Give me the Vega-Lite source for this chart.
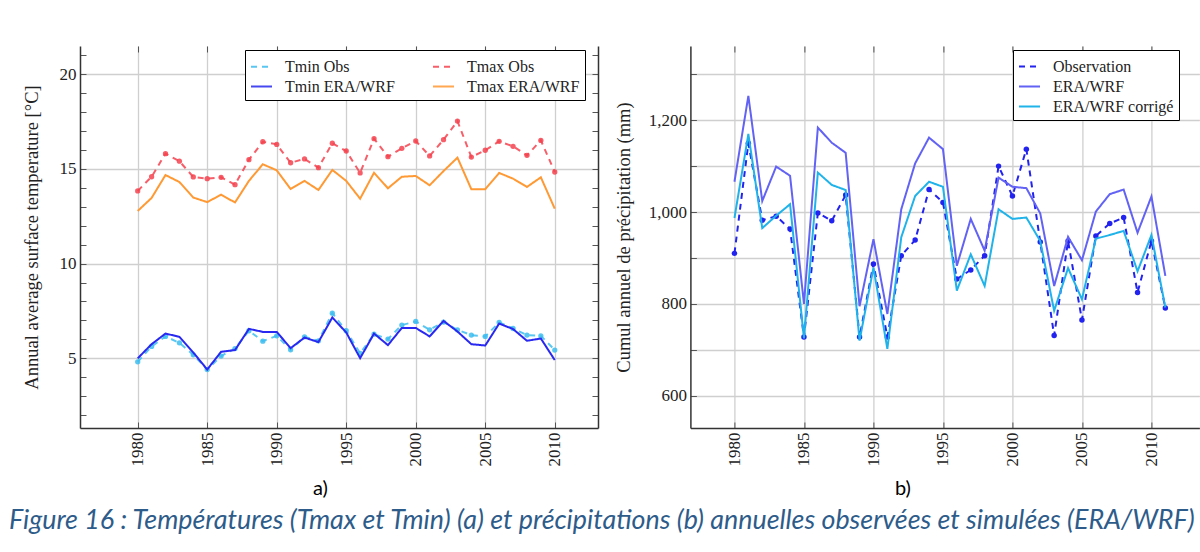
{
  "$schema": "https://vega.github.io/schema/vega-lite/v6.json",
  "background": "white",
  "padding": {"left": 9, "top": 45, "right": 0, "bottom": 5},
  "bounds": "flush",
  "spacing": 92.4,
  "datasets": {
    "temp": [
      {"year":1980,"series":"Tmin Obs","value":4.81},{"year":1981,"series":"Tmin Obs","value":5.62},{"year":1982,"series":"Tmin Obs","value":6.15},{"year":1983,"series":"Tmin Obs","value":5.81},{"year":1984,"series":"Tmin Obs","value":5.18},{"year":1985,"series":"Tmin Obs","value":4.40},{"year":1986,"series":"Tmin Obs","value":5.11},{"year":1987,"series":"Tmin Obs","value":5.51},{"year":1988,"series":"Tmin Obs","value":6.45},{"year":1989,"series":"Tmin Obs","value":5.90},{"year":1990,"series":"Tmin Obs","value":6.18},{"year":1991,"series":"Tmin Obs","value":5.44},{"year":1992,"series":"Tmin Obs","value":6.13},{"year":1993,"series":"Tmin Obs","value":5.92},{"year":1994,"series":"Tmin Obs","value":7.38},{"year":1995,"series":"Tmin Obs","value":6.45},{"year":1996,"series":"Tmin Obs","value":5.25},{"year":1997,"series":"Tmin Obs","value":6.27},{"year":1998,"series":"Tmin Obs","value":6.01},{"year":1999,"series":"Tmin Obs","value":6.75},{"year":2000,"series":"Tmin Obs","value":6.94},{"year":2001,"series":"Tmin Obs","value":6.50},{"year":2002,"series":"Tmin Obs","value":6.91},{"year":2003,"series":"Tmin Obs","value":6.50},{"year":2004,"series":"Tmin Obs","value":6.22},{"year":2005,"series":"Tmin Obs","value":6.15},{"year":2006,"series":"Tmin Obs","value":6.89},{"year":2007,"series":"Tmin Obs","value":6.57},{"year":2008,"series":"Tmin Obs","value":6.22},{"year":2009,"series":"Tmin Obs","value":6.18},{"year":2010,"series":"Tmin Obs","value":5.43},
      {"year":1980,"series":"Tmax Obs","value":13.84},{"year":1981,"series":"Tmax Obs","value":14.59},{"year":1982,"series":"Tmax Obs","value":15.81},{"year":1983,"series":"Tmax Obs","value":15.41},{"year":1984,"series":"Tmax Obs","value":14.58},{"year":1985,"series":"Tmax Obs","value":14.49},{"year":1986,"series":"Tmax Obs","value":14.56},{"year":1987,"series":"Tmax Obs","value":14.17},{"year":1988,"series":"Tmax Obs","value":15.49},{"year":1989,"series":"Tmax Obs","value":16.44},{"year":1990,"series":"Tmax Obs","value":16.30},{"year":1991,"series":"Tmax Obs","value":15.33},{"year":1992,"series":"Tmax Obs","value":15.53},{"year":1993,"series":"Tmax Obs","value":15.07},{"year":1994,"series":"Tmax Obs","value":16.36},{"year":1995,"series":"Tmax Obs","value":15.95},{"year":1996,"series":"Tmax Obs","value":14.79},{"year":1997,"series":"Tmax Obs","value":16.60},{"year":1998,"series":"Tmax Obs","value":15.65},{"year":1999,"series":"Tmax Obs","value":16.09},{"year":2000,"series":"Tmax Obs","value":16.48},{"year":2001,"series":"Tmax Obs","value":15.69},{"year":2002,"series":"Tmax Obs","value":16.55},{"year":2003,"series":"Tmax Obs","value":17.53},{"year":2004,"series":"Tmax Obs","value":15.63},{"year":2005,"series":"Tmax Obs","value":15.99},{"year":2006,"series":"Tmax Obs","value":16.46},{"year":2007,"series":"Tmax Obs","value":16.20},{"year":2008,"series":"Tmax Obs","value":15.72},{"year":2009,"series":"Tmax Obs","value":16.51},{"year":2010,"series":"Tmax Obs","value":14.84},
      {"year":1980,"series":"Tmin ERA/WRF","value":4.99},{"year":1981,"series":"Tmin ERA/WRF","value":5.74},{"year":1982,"series":"Tmin ERA/WRF","value":6.30},{"year":1983,"series":"Tmin ERA/WRF","value":6.13},{"year":1984,"series":"Tmin ERA/WRF","value":5.30},{"year":1985,"series":"Tmin ERA/WRF","value":4.40},{"year":1986,"series":"Tmin ERA/WRF","value":5.34},{"year":1987,"series":"Tmin ERA/WRF","value":5.43},{"year":1988,"series":"Tmin ERA/WRF","value":6.55},{"year":1989,"series":"Tmin ERA/WRF","value":6.39},{"year":1990,"series":"Tmin ERA/WRF","value":6.39},{"year":1991,"series":"Tmin ERA/WRF","value":5.53},{"year":1992,"series":"Tmin ERA/WRF","value":6.09},{"year":1993,"series":"Tmin ERA/WRF","value":5.85},{"year":1994,"series":"Tmin ERA/WRF","value":7.15},{"year":1995,"series":"Tmin ERA/WRF","value":6.36},{"year":1996,"series":"Tmin ERA/WRF","value":5.00},{"year":1997,"series":"Tmin ERA/WRF","value":6.30},{"year":1998,"series":"Tmin ERA/WRF","value":5.69},{"year":1999,"series":"Tmin ERA/WRF","value":6.60},{"year":2000,"series":"Tmin ERA/WRF","value":6.60},{"year":2001,"series":"Tmin ERA/WRF","value":6.15},{"year":2002,"series":"Tmin ERA/WRF","value":6.97},{"year":2003,"series":"Tmin ERA/WRF","value":6.41},{"year":2004,"series":"Tmin ERA/WRF","value":5.74},{"year":2005,"series":"Tmin ERA/WRF","value":5.67},{"year":2006,"series":"Tmin ERA/WRF","value":6.83},{"year":2007,"series":"Tmin ERA/WRF","value":6.54},{"year":2008,"series":"Tmin ERA/WRF","value":5.92},{"year":2009,"series":"Tmin ERA/WRF","value":6.04},{"year":2010,"series":"Tmin ERA/WRF","value":4.90},
      {"year":1980,"series":"Tmax ERA/WRF","value":12.78},{"year":1981,"series":"Tmax ERA/WRF","value":13.47},{"year":1982,"series":"Tmax ERA/WRF","value":14.68},{"year":1983,"series":"Tmax ERA/WRF","value":14.31},{"year":1984,"series":"Tmax ERA/WRF","value":13.49},{"year":1985,"series":"Tmax ERA/WRF","value":13.25},{"year":1986,"series":"Tmax ERA/WRF","value":13.64},{"year":1987,"series":"Tmax ERA/WRF","value":13.23},{"year":1988,"series":"Tmax ERA/WRF","value":14.37},{"year":1989,"series":"Tmax ERA/WRF","value":15.25},{"year":1990,"series":"Tmax ERA/WRF","value":14.93},{"year":1991,"series":"Tmax ERA/WRF","value":13.94},{"year":1992,"series":"Tmax ERA/WRF","value":14.37},{"year":1993,"series":"Tmax ERA/WRF","value":13.89},{"year":1994,"series":"Tmax ERA/WRF","value":14.95},{"year":1995,"series":"Tmax ERA/WRF","value":14.37},{"year":1996,"series":"Tmax ERA/WRF","value":13.43},{"year":1997,"series":"Tmax ERA/WRF","value":14.80},{"year":1998,"series":"Tmax ERA/WRF","value":13.98},{"year":1999,"series":"Tmax ERA/WRF","value":14.59},{"year":2000,"series":"Tmax ERA/WRF","value":14.63},{"year":2001,"series":"Tmax ERA/WRF","value":14.14},{"year":2002,"series":"Tmax ERA/WRF","value":14.89},{"year":2003,"series":"Tmax ERA/WRF","value":15.60},{"year":2004,"series":"Tmax ERA/WRF","value":13.93},{"year":2005,"series":"Tmax ERA/WRF","value":13.93},{"year":2006,"series":"Tmax ERA/WRF","value":14.79},{"year":2007,"series":"Tmax ERA/WRF","value":14.49},{"year":2008,"series":"Tmax ERA/WRF","value":14.05},{"year":2009,"series":"Tmax ERA/WRF","value":14.56},{"year":2010,"series":"Tmax ERA/WRF","value":12.90}
    ],
    "precip": [
      {"year":1980,"series":"Observation","value":910},{"year":1981,"series":"Observation","value":1150},{"year":1982,"series":"Observation","value":982},{"year":1983,"series":"Observation","value":991},{"year":1984,"series":"Observation","value":963},{"year":1985,"series":"Observation","value":728},{"year":1986,"series":"Observation","value":998},{"year":1987,"series":"Observation","value":981},{"year":1988,"series":"Observation","value":1037},{"year":1989,"series":"Observation","value":728},{"year":1990,"series":"Observation","value":887},{"year":1991,"series":"Observation","value":728},{"year":1992,"series":"Observation","value":905},{"year":1993,"series":"Observation","value":939},{"year":1994,"series":"Observation","value":1049},{"year":1995,"series":"Observation","value":1021},{"year":1996,"series":"Observation","value":854},{"year":1997,"series":"Observation","value":874},{"year":1998,"series":"Observation","value":905},{"year":1999,"series":"Observation","value":1100},{"year":2000,"series":"Observation","value":1035},{"year":2001,"series":"Observation","value":1137},{"year":2002,"series":"Observation","value":935},{"year":2003,"series":"Observation","value":731},{"year":2004,"series":"Observation","value":937},{"year":2005,"series":"Observation","value":765},{"year":2006,"series":"Observation","value":948},{"year":2007,"series":"Observation","value":975},{"year":2008,"series":"Observation","value":988},{"year":2009,"series":"Observation","value":825},{"year":2010,"series":"Observation","value":937},{"year":2011,"series":"Observation","value":791},
      {"year":1980,"series":"ERA/WRF","value":1066},{"year":1981,"series":"ERA/WRF","value":1253},{"year":1982,"series":"ERA/WRF","value":1024},{"year":1983,"series":"ERA/WRF","value":1099},{"year":1984,"series":"ERA/WRF","value":1079},{"year":1985,"series":"ERA/WRF","value":800},{"year":1986,"series":"ERA/WRF","value":1184},{"year":1987,"series":"ERA/WRF","value":1151},{"year":1988,"series":"ERA/WRF","value":1129},{"year":1989,"series":"ERA/WRF","value":795},{"year":1990,"series":"ERA/WRF","value":941},{"year":1991,"series":"ERA/WRF","value":778},{"year":1992,"series":"ERA/WRF","value":1006},{"year":1993,"series":"ERA/WRF","value":1106},{"year":1994,"series":"ERA/WRF","value":1162},{"year":1995,"series":"ERA/WRF","value":1137},{"year":1996,"series":"ERA/WRF","value":883},{"year":1997,"series":"ERA/WRF","value":985},{"year":1998,"series":"ERA/WRF","value":916},{"year":1999,"series":"ERA/WRF","value":1075},{"year":2000,"series":"ERA/WRF","value":1055},{"year":2001,"series":"ERA/WRF","value":1052},{"year":2002,"series":"ERA/WRF","value":997},{"year":2003,"series":"ERA/WRF","value":839},{"year":2004,"series":"ERA/WRF","value":946},{"year":2005,"series":"ERA/WRF","value":895},{"year":2006,"series":"ERA/WRF","value":1001},{"year":2007,"series":"ERA/WRF","value":1039},{"year":2008,"series":"ERA/WRF","value":1049},{"year":2009,"series":"ERA/WRF","value":955},{"year":2010,"series":"ERA/WRF","value":1034},{"year":2011,"series":"ERA/WRF","value":861},
      {"year":1980,"series":"ERA/WRF corrigé","value":987},{"year":1981,"series":"ERA/WRF corrigé","value":1170},{"year":1982,"series":"ERA/WRF corrigé","value":965},{"year":1983,"series":"ERA/WRF corrigé","value":992},{"year":1984,"series":"ERA/WRF corrigé","value":1017},{"year":1985,"series":"ERA/WRF corrigé","value":725},{"year":1986,"series":"ERA/WRF corrigé","value":1086},{"year":1987,"series":"ERA/WRF corrigé","value":1059},{"year":1988,"series":"ERA/WRF corrigé","value":1048},{"year":1989,"series":"ERA/WRF corrigé","value":720},{"year":1990,"series":"ERA/WRF corrigé","value":879},{"year":1991,"series":"ERA/WRF corrigé","value":702},{"year":1992,"series":"ERA/WRF corrigé","value":945},{"year":1993,"series":"ERA/WRF corrigé","value":1035},{"year":1994,"series":"ERA/WRF corrigé","value":1066},{"year":1995,"series":"ERA/WRF corrigé","value":1055},{"year":1996,"series":"ERA/WRF corrigé","value":829},{"year":1997,"series":"ERA/WRF corrigé","value":908},{"year":1998,"series":"ERA/WRF corrigé","value":839},{"year":1999,"series":"ERA/WRF corrigé","value":1006},{"year":2000,"series":"ERA/WRF corrigé","value":985},{"year":2001,"series":"ERA/WRF corrigé","value":988},{"year":2002,"series":"ERA/WRF corrigé","value":937},{"year":2003,"series":"ERA/WRF corrigé","value":785},{"year":2004,"series":"ERA/WRF corrigé","value":878},{"year":2005,"series":"ERA/WRF corrigé","value":810},{"year":2006,"series":"ERA/WRF corrigé","value":942},{"year":2007,"series":"ERA/WRF corrigé","value":950},{"year":2008,"series":"ERA/WRF corrigé","value":959},{"year":2009,"series":"ERA/WRF corrigé","value":871},{"year":2010,"series":"ERA/WRF corrigé","value":950},{"year":2011,"series":"ERA/WRF corrigé","value":792}
    ]
  },
  "title": {
    "text": "Figure 16 : Températures (Tmax et Tmin) (a) et précipitations (b) annuelles observées et simulées (ERA/WRF)",
    "orient": "bottom", "anchor": "start", "font": "Lato", "fontStyle": "italic", "fontWeight": "normal",
    "fontSize": 26.85, "color": "#2e5c8a", "offset": 10, "dx": -13
  },
  "hconcat": [
    {
      "width": 518, "height": 382,
      "data": {"name": "temp"},
      "encoding": {
        "x": {"field": "year", "type": "quantitative", "scale": {"domain": [1975.85, 2013.11], "nice": false, "zero": false}, "axis": null},
        "y": {"field": "value", "type": "quantitative", "scale": {"domain": [1.31, 21.5], "nice": false, "zero": false}, "axis": null},
        "color": {"field": "series", "type": "nominal",
          "scale": {"domain": ["Tmin Obs","Tmin ERA/WRF","Tmax Obs","Tmax ERA/WRF"], "range": ["#3dbdf0","#2828f0","#f5434f","#ff9933"]},
          "legend": {"orient": "none", "legendX": 165, "legendY": 4, "columns": 2, "title": null}},
        "strokeDash": {"field": "series", "type": "nominal",
          "scale": {"domain": ["Tmin Obs","Tmin ERA/WRF","Tmax Obs","Tmax ERA/WRF"], "range": [[6,5],[1,0],[6,5],[1,0]]},
          "legend": {"orient": "none", "legendX": 165, "legendY": 4, "columns": 2, "title": null}}
      },
      "layer": [
        {
          "transform": [{"filter": "indexof(datum.series, 'Obs') >= 0"}],
          "mark": {"type": "line", "strokeWidth": 2, "strokeOpacity": 0.85, "point": {"filled": true, "size": 28, "opacity": 0.85}},
          "encoding": {
            "x": {"field": "year", "type": "quantitative", "scale": {"domain": [1975.85, 2013.11], "nice": false, "zero": false},
              "axis": {"orient": "bottom", "values": [1980,1985,1990,1995,2000,2005,2010], "format": "d", "labelAngle": -90, "title": "a)", "titleFont": "Lato", "titleFontSize": 20, "titleColor": "#000", "titleX": 240, "titlePadding": 12, "grid": true, "domain": true}},
            "y": {"field": "value", "type": "quantitative", "scale": {"domain": [1.31, 21.5], "nice": false, "zero": false},
              "axis": {"orient": "left", "values": [2,3,4,5,6,7,8,9,10,11,12,13,14,15,16,17,18,19,20,21], "labelExpr": "datum.value % 5 == 0 ? datum.label : ''", "gridOpacity": {"condition": {"test": "datum.value % 5 == 0", "value": 1}, "value": 0}, "title": "Annual average surface temperature [°C]", "titleFontSize": 18.5, "titlePadding": 18}}
          }
        },
        {
          "transform": [{"filter": "indexof(datum.series, 'ERA') >= 0"}],
          "mark": {"type": "line", "strokeWidth": 2}
        },
        {
          "mark": {"type": "point", "opacity": 0},
          "encoding": {
            "x": {"field": "year", "type": "quantitative", "scale": {"domain": [1975.85, 2013.11], "nice": false, "zero": false},
              "axis": {"orient": "top", "values": [1980,1985,1990,1995,2000,2005,2010], "labels": false, "domain": false, "grid": false, "title": null}},
            "y": {"field": "value", "type": "quantitative", "scale": {"domain": [1.31, 21.5], "nice": false, "zero": false},
              "axis": {"orient": "right", "values": [2,3,4,5,6,7,8,9,10,11,12,13,14,15,16,17,18,19,20,21], "labels": false, "domain": true, "grid": false, "title": null}},
            "color": {"value": "#000"},
            "strokeDash": {"value": [1,0]}
          }
        }
      ],
      "resolve": {"axis": {"x": "independent", "y": "independent"}}
    },
    {
      "width": 509, "height": 382,
      "data": {"name": "precip"},
      "encoding": {
        "x": {"field": "year", "type": "quantitative", "scale": {"domain": [1976.83, 2013.45], "nice": false, "zero": false}, "axis": null},
        "y": {"field": "value", "type": "quantitative", "scale": {"domain": [529.7, 1361.6], "nice": false, "zero": false}, "axis": null},
        "color": {"field": "series", "type": "nominal",
          "scale": {"domain": ["Observation","ERA/WRF","ERA/WRF corrigé"], "range": ["#2323f0","#6262f5","#1fb3ea"]},
          "legend": {"orient": "none", "legendX": 322.6, "legendY": 4, "title": null}},
        "strokeDash": {"field": "series", "type": "nominal",
          "scale": {"domain": ["Observation","ERA/WRF","ERA/WRF corrigé"], "range": [[6,5],[1,0],[1,0]]},
          "legend": {"orient": "none", "legendX": 322.6, "legendY": 4, "title": null}}
      },
      "layer": [
        {
          "transform": [{"filter": "datum.series == 'Observation'"}],
          "mark": {"type": "line", "strokeWidth": 2, "point": {"filled": true, "size": 30}},
          "encoding": {
            "x": {"field": "year", "type": "quantitative", "scale": {"domain": [1976.83, 2013.45], "nice": false, "zero": false},
              "axis": {"orient": "bottom", "values": [1980,1985,1990,1995,2000,2005,2010], "format": "d", "labelAngle": -90, "title": "b)", "titleFont": "Lato", "titleFontSize": 20, "titleColor": "#000", "titleX": 212, "titlePadding": 12, "grid": true, "domain": true}},
            "y": {"field": "value", "type": "quantitative", "scale": {"domain": [529.7, 1361.6], "nice": false, "zero": false},
              "axis": {"orient": "left", "values": [600,700,800,900,1000,1100,1200,1300], "labelExpr": "datum.value % 200 == 0 ? format(datum.value, ',') : ''", "title": "Cumul annuel de précipitation (mm)", "titleFontSize": 18.5, "titlePadding": 15, "grid": true}}
          }
        },
        {
          "transform": [{"filter": "datum.series != 'Observation'"}],
          "mark": {"type": "line", "strokeWidth": 2}
        },
        {
          "mark": {"type": "point", "opacity": 0},
          "encoding": {
            "x": {"field": "year", "type": "quantitative", "scale": {"domain": [1976.83, 2013.45], "nice": false, "zero": false},
              "axis": {"orient": "top", "values": [1980,1985,1990,1995,2000,2005,2010], "labels": false, "domain": false, "grid": false, "title": null}},
            "color": {"value": "#000"},
            "strokeDash": {"value": [1,0]}
          }
        }
      ],
      "resolve": {"axis": {"x": "independent", "y": "independent"}}
    }
  ],
  "resolve": {"scale": {"color": "independent", "strokeDash": "independent"}, "legend": {"color": "independent", "strokeDash": "independent"}},
  "config": {
    "view": {"stroke": null},
    "axis": {
      "labelFont": "Liberation Serif", "labelFontSize": 17, "labelColor": "#222",
      "titleFont": "Liberation Serif", "titleFontSize": 18, "titleFontWeight": "normal", "titleColor": "#222",
      "gridColor": "#cfcfcf", "gridWidth": 1.3,
      "domainColor": "#333", "domainWidth": 1.5,
      "tickColor": "#555", "tickSize": -6, "labelPadding": 10
    },
    "legend": {
      "labelFont": "Liberation Serif", "labelFontSize": 16, "labelColor": "#222",
      "strokeColor": "#000", "fillColor": "white", "padding": 5,
      "symbolType": "stroke", "symbolSize": 441, "symbolStrokeWidth": 2, "labelOffset": 12,
      "columnPadding": 34, "rowPadding": 0, "labelLimit": 300
    }
  }
}
